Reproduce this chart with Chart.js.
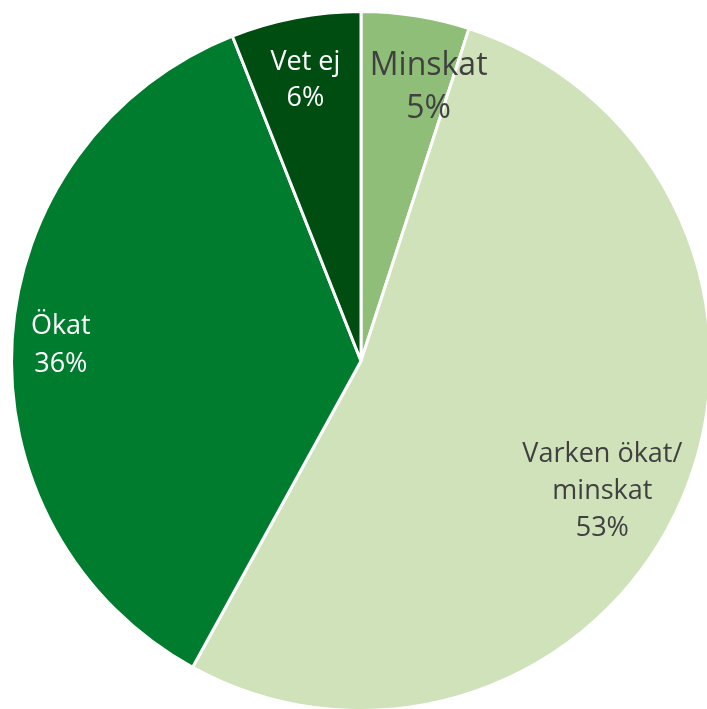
<!DOCTYPE html>
<html>
<head>
<meta charset="utf-8">
<script src="https://cdn.jsdelivr.net/npm/chart.js@4"></script>
<style>
  html, body { margin: 0; padding: 0; background: #fff; overflow: hidden; }
  #wrap { width: 722px; height: 722px; }
</style>
</head>
<body>
<div id="wrap"><canvas id="pie"></canvas></div>
<script>
/************/
/*** DATA ***/
/************/

const categories = ['Minskat', 'Varken ökat/ minskat', 'Ökat', 'Vet ej'];
const values = [5, 53, 36, 6];
const labelLines = [['Minskat', '5%'], ['Varken ökat/', 'minskat', '53%'], ['Ökat', '36%'], ['Vet ej', '6%']];
const colors = ['#8fbe78', '#d0e2b9', '#007c2f', '#004d12'];

// Label styling per slice (angle shift in degrees, radius fraction, font size, line height, colour):
const labelAngleShift = [4.9, 5.0, -0.7, -0.4];
const labelRadius = [0.806, 0.785, 0.86, 0.82];
const labelSize = [32, 27, 27, 27];
const labelLineHeight = [43, 37, 38, 36];
const labelColor = ['#404040', '#404040', '#ffffff', '#ffffff'];

/****************/
/*** Plotting ***/
/****************/

const sliceLabels = {
    id: 'sliceLabels',
    afterDatasetsDraw(chart) {
        const ctx = chart.ctx;
        const arcs = chart.getDatasetMeta(0).data;
        arcs.forEach((arc, i) => {
            const p = arc.getProps(['x', 'y', 'startAngle', 'endAngle', 'outerRadius'], true);
            const a = (p.startAngle + p.endAngle) / 2 + labelAngleShift[i] * Math.PI / 180;
            const r = p.outerRadius * labelRadius[i];
            const cx = p.x + Math.cos(a) * r;
            const cy = p.y + Math.sin(a) * r;
            const lines = labelLines[i];
            ctx.save();
            ctx.font = labelSize[i] + 'px "Open Sans", sans-serif';
            ctx.fillStyle = labelColor[i];
            ctx.textAlign = 'center';
            ctx.textBaseline = 'middle';
            lines.forEach((t, k) => {
                ctx.fillText(t, cx, cy + (k - (lines.length - 1) / 2) * labelLineHeight[i]);
            });
            ctx.restore();
        });
    }
};

function genPie() {
    const ctx = document.getElementById('pie');
    return new Chart(ctx, {
        type: 'pie',
        data: {
            labels: categories,
            datasets: [{data: values, backgroundColor: colors, borderColor: '#ffffff', borderWidth: 3, hoverOffset: 0}]
        },
        options: {
            responsive: true,
            maintainAspectRatio: false,
            animation: false,
            layout: {padding: 10},
            plugins: {legend: {display: false}, tooltip: {enabled: false}}
        },
        plugins: [sliceLabels]
    });
}

let chart = genPie();
</script>
</body>
</html>
